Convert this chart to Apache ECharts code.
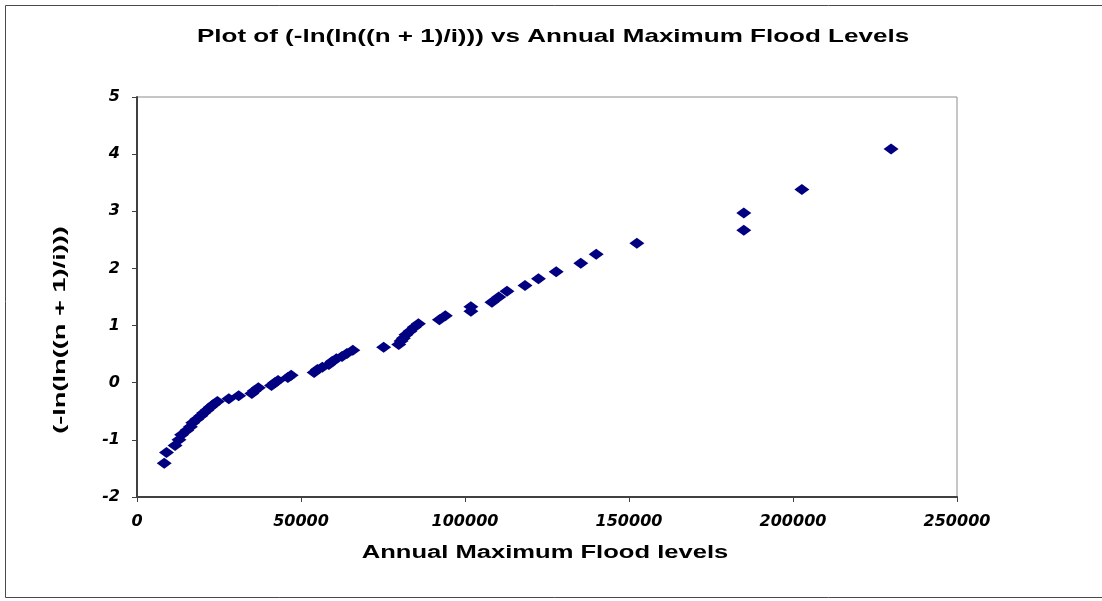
<!DOCTYPE html>
<html>
<head>
<meta charset="utf-8">
<script src="https://cdn.jsdelivr.net/npm/echarts@6/dist/echarts.min.js"></script>
<style>
  html, body { margin: 0; padding: 0; background: #fff; }
  #chart { width: 1102px; height: 601px; }
</style>
</head>
<body>
<div id="chart"></div>
<script>
// Annual maximum flood levels, ranked ascending
var floodLevels = [
  8300, 9000, 11600, 12800, 13600, 15200, 16300, 17000, 18200, 19500,
  20300, 21300, 22300, 23300, 24500, 28000, 31000, 35000, 35800, 37000,
  41000, 42000, 43000, 46000, 47000, 54000, 55000, 56500, 58500, 59500,
  60800, 62500, 64000, 65800, 75200, 79800, 80500, 81200, 82000, 83200,
  84500, 85800, 92200, 94000, 101800, 101800, 108200, 110300, 112800, 118300,
  122400, 127800, 135300, 140000, 152400, 185000, 185000, 202700, 229900
];

// Reduced variate -ln(ln((n+1)/i)) for each ranked value
var reducedVariate = [
  -1.41, -1.22, -1.10, -1.00, -0.91, -0.83, -0.77, -0.70, -0.64, -0.58,
  -0.53, -0.48, -0.43, -0.38, -0.33, -0.28, -0.23, -0.19, -0.14, -0.09,
  -0.05, 0.00, 0.04, 0.09, 0.13, 0.18, 0.23, 0.27, 0.32, 0.37,
  0.42, 0.46, 0.51, 0.57, 0.62, 0.67, 0.73, 0.78, 0.84, 0.90,
  0.97, 1.03, 1.10, 1.17, 1.25, 1.33, 1.41, 1.50, 1.60, 1.70,
  1.82, 1.94, 2.09, 2.25, 2.44, 2.67, 2.97, 3.38, 4.09
];

var xTicks = [0, 50000, 100000, 150000, 200000, 250000];
var yTicks = [-2, -1, 0, 1, 2, 3, 4, 5];

var points = floodLevels.map(function (x, i) { return [x, reducedVariate[i]]; });

var FONT = '"Liberation Sans", Arial, sans-serif';
var TICK_FONT = '"DejaVu Sans", "Liberation Sans", sans-serif';
var chart = echarts.init(document.getElementById('chart'), null, { renderer: 'canvas' });

var tickLabel = {
  fontFamily: TICK_FONT, fontWeight: 'bold', fontStyle: 'italic', fontSize: 16, color: '#000'
};

chart.setOption({
  animation: false,
  backgroundColor: '#ffffff',
  grid: {
    left: 137, right: 145, top: 97, bottom: 104,
    show: true, borderColor: '#8c8c8c', borderWidth: 1, backgroundColor: '#fff'
  },
  xAxis: {
    type: 'value',
    min: xTicks[0], max: xTicks[xTicks.length - 1], interval: 50000,
    axisLine: { show: true, onZero: false, lineStyle: { color: '#404040', width: 2 } },
    axisTick: { show: true, inside: false, length: 5, lineStyle: { color: '#404040' } },
    splitLine: { show: false },
    axisLabel: Object.assign({ margin: 17, formatter: function (v) { return String(v); } }, tickLabel)
  },
  yAxis: {
    type: 'value',
    min: yTicks[0], max: yTicks[yTicks.length - 1], interval: 1,
    axisLine: { show: true, onZero: false, lineStyle: { color: '#404040', width: 2 } },
    axisTick: { show: true, inside: false, length: 5, lineStyle: { color: '#404040' } },
    splitLine: { show: false },
    axisLabel: Object.assign({ margin: 17 }, tickLabel)
  },
  graphic: [
    {
      type: 'rect',
      shape: { x: 5.5, y: 5.5, width: 1120, height: 592 },
      style: { fill: 'none', stroke: '#4a4a4a', lineWidth: 1 },
      silent: true, z: -1
    },
    {
      type: 'text',
      x: 553, y: 37,
      scaleX: 1.37,
      style: {
        text: 'Plot of (-ln(ln((n + 1)/i))) vs Annual Maximum Flood Levels',
        fontFamily: FONT, fontWeight: 'bold', fontSize: 19, fill: '#000',
        align: 'center', verticalAlign: 'middle'
      }
    },
    {
      type: 'text',
      x: 545, y: 553,
      scaleX: 1.42,
      style: {
        text: 'Annual Maximum Flood levels',
        fontFamily: FONT, fontWeight: 'bold', fontSize: 18, fill: '#000',
        align: 'center', verticalAlign: 'middle'
      }
    },
    {
      type: 'text',
      x: 60, y: 330,
      rotation: Math.PI / 2,
      scaleX: 1.6,
      style: {
        text: '(-ln(ln((n + 1)/i)))',
        fontFamily: FONT, fontWeight: 'bold', fontSize: 17, fill: '#000',
        align: 'center', verticalAlign: 'middle'
      }
    }
  ],
  series: [{
    type: 'scatter',
    data: points,
    symbol: 'diamond',
    symbolSize: [15, 11],
    itemStyle: { color: '#000080', opacity: 1 }
  }]
});
</script>
</body>
</html>
